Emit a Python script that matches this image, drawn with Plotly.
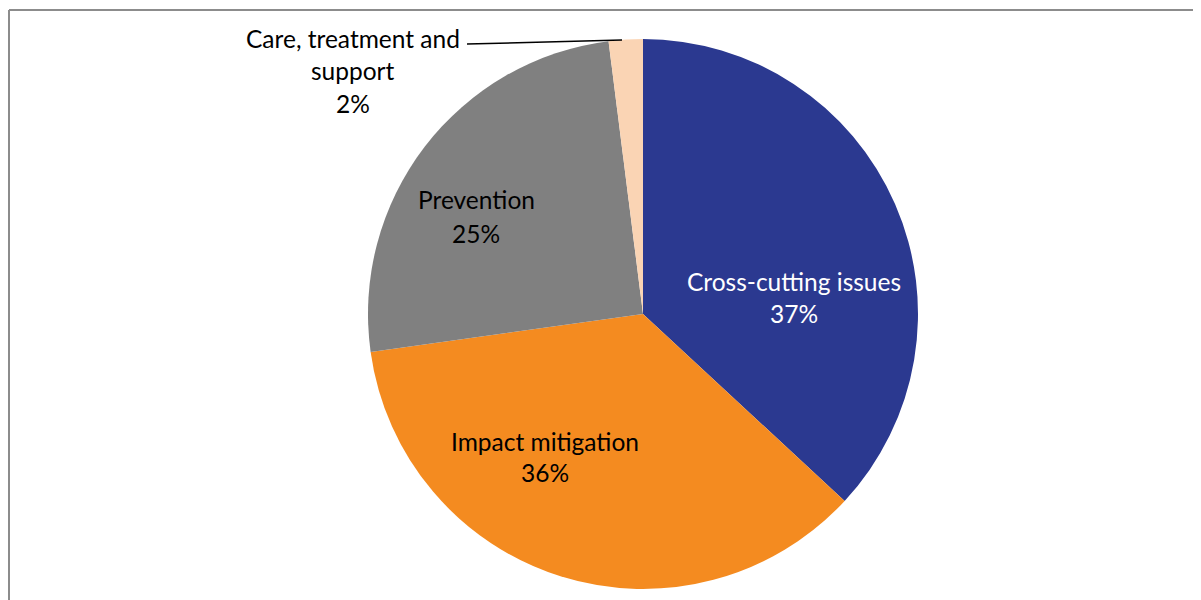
import plotly.graph_objects as go

categories = ["Cross-cutting issues", "Impact mitigation", "Prevention", "Care, treatment and support"]
values = [36.9, 35.9, 25.2, 2.0]
pct_labels = ["37%", "36%", "25%", "2%"]
colors = ["#2B3990", "#F48B20", "#808080", "#FAD4B4"]

W, H = 1201, 600
OFF = 8  # default page body margin shifts the figure on screen

def px(x):
    return (x - OFF) / W

def py(y):
    return (H - (y - OFF)) / H

cx, cy, r = 643, 314, 275

fig = go.Figure(go.Pie(
    labels=categories,
    values=values,
    marker=dict(colors=colors, line=dict(width=0)),
    sort=False,
    direction="clockwise",
    rotation=0,
    textinfo="none",
    hoverinfo="label+percent",
    showlegend=False,
    domain=dict(x=[px(cx - r), px(cx + r)], y=[py(cy + r), py(cy - r)]),
))

FONT = "Lato"
FS = 24.5

label_lines = [
    (["Cross-cutting issues", pct_labels[0]], 794, [281, 313], "white"),
    (["Impact mitigation", pct_labels[1]], 545, [441, 472], "black"),
    (["Prevention", pct_labels[2]], 476, [199, 233], "black"),
    (["Care, treatment and", "support", pct_labels[3]], 353, [38, 71, 103], "black"),
]

annotations = []
for lines, x, ys, col in label_lines:
    for t, y in zip(lines, ys):
        annotations.append(dict(
            text=t, x=px(x), y=py(y), xref="paper", yref="paper",
            xanchor="center", yanchor="middle", showarrow=False,
            font=dict(family=FONT, size=FS, color=col),
        ))

shapes = [
    # leader line for small slice
    dict(type="line", xref="paper", yref="paper",
         x0=px(467), y0=py(44), x1=px(622), y1=py(40),
         line=dict(color="black", width=1.5)),
    # chart frame
    dict(type="line", xref="paper", yref="paper",
         x0=px(9), y0=py(610), x1=px(9), y1=py(10),
         line=dict(color="#8C8C8C", width=2)),
    dict(type="line", xref="paper", yref="paper",
         x0=px(9), y0=py(10), x1=px(1215), y1=py(10),
         line=dict(color="#8C8C8C", width=2)),
]

fig.update_layout(
    width=W, height=H,
    margin=dict(l=0, r=0, t=0, b=0),
    paper_bgcolor="white",
    plot_bgcolor="white",
    annotations=annotations,
    shapes=shapes,
)

fig.write_html("out.html")
